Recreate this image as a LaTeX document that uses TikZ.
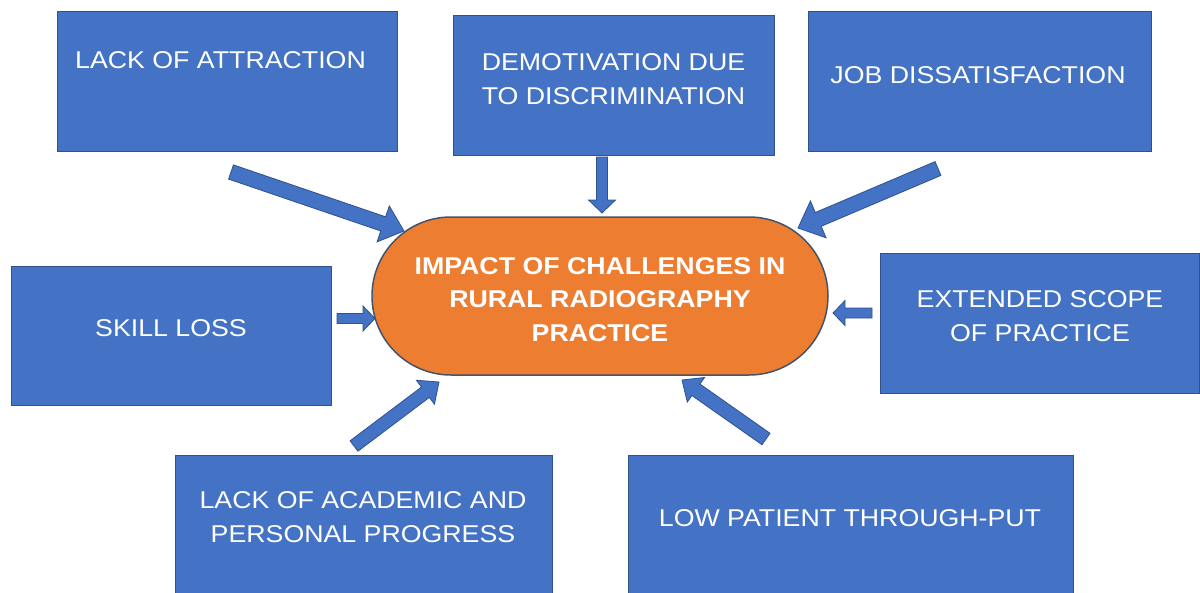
\documentclass[tikz,border=0pt]{standalone}
\usepackage{fontspec}
\setmainfont{Liberation Sans}[FakeStretch=1.1]
\usetikzlibrary{calc}
\definecolor{boxblue}{HTML}{4472C4}
\definecolor{boxedge}{HTML}{2F528F}
\definecolor{hubfill}{HTML}{ED7D31}
\definecolor{hubedge}{HTML}{44546A}
\tikzset{
  cbox/.style={draw=boxedge, fill=boxblue, line width=1pt, inner sep=0pt},
  ctext/.style={text=white, font=\fontsize{24.3}{34}\selectfont, align=center, inner sep=0pt},
  hubstyle/.style={draw=hubedge, fill=hubfill, line width=1.5pt, inner sep=0pt},
  barrow/.style={draw=boxedge, fill=boxblue, line width=0.8pt, line join=miter},
}
% tail, tip, shaft half width, head half width, head length
\newcommand\blockarrow[5]{%
  \coordinate (#1-h) at ($(#2)!#5!(#1)$);
  \filldraw[barrow] ($(#1)!#3!90:(#2)$) -- ($(#1-h)!#3!90:(#2)$) -- ($(#1-h)!#4!90:(#2)$) -- (#2)
    -- ($(#1-h)!#4!-90:(#2)$) -- ($(#1-h)!#3!-90:(#2)$) -- ($(#1)!#3!-90:(#2)$) -- cycle;
}
\begin{document}
\begin{tikzpicture}[x=1pt,y=-1pt]
\useasboundingbox (0,0) rectangle (1200,592);
\fill[white] (0,0) rectangle (1200,592);
% boxes
\node[cbox, minimum width=340pt, minimum height=140pt] (b1) at (227,81) {};
\node[cbox, minimum width=321pt, minimum height=140pt] (b2) at (613.5,85) {};
\node[cbox, minimum width=343pt, minimum height=140pt] (b3) at (979.5,81) {};
\node[cbox, minimum width=320pt, minimum height=139pt] (b4) at (171,335.5) {};
\node[cbox, minimum width=319pt, minimum height=140pt] (b5) at (1039.5,323) {};
\node[cbox, minimum width=377pt, minimum height=160pt] (b6) at (363.5,535) {};
\node[cbox, minimum width=445pt, minimum height=160pt] (b7) at (850.5,535) {};
% texts
\node[ctext] (t1) at (220.5,60) {LACK OF ATTRACTION};
\node[ctext] (t2) at (613.5,79) {DEMOTIVATION DUE\\TO DISCRIMINATION};
\node[ctext] (t3) at (978,75) {JOB DISSATISFACTION};
\node[ctext] (t4) at (171,328) {SKILL LOSS};
\node[ctext] (t5) at (1040,316) {EXTENDED SCOPE\\OF PRACTICE};
\node[ctext] (t6) at (363,517) {LACK OF ACADEMIC AND\\PERSONAL PROGRESS};
\node[ctext] (t7) at (850,518) {LOW PATIENT THROUGH-PUT};
% hub
\node[hubstyle, minimum width=456pt, minimum height=158pt, rounded corners=79pt] (hub) at (600,296) {};
\node[ctext, font=\fontsize{24.3}{33.5}\selectfont\bfseries] (hubtext) at (600,299.5) {IMPACT OF CHALLENGES IN\\RURAL RADIOGRAPHY\\PRACTICE};
% arrow ends
\coordinate (a1) at (231,172);   \coordinate (p1) at (404,231);
\coordinate (a2) at (602,157);   \coordinate (p2) at (602,213);
\coordinate (a3) at (938,168.5); \coordinate (p3) at (798,228);
\coordinate (a4) at (337,318.5); \coordinate (p4) at (375,318.5);
\coordinate (a5) at (872,313);   \coordinate (p5) at (833,313);
\coordinate (a6) at (354,446);   \coordinate (p6) at (439,382);
\coordinate (a7) at (766,439);   \coordinate (p7) at (682,380);
\blockarrow{a1}{p1}{7.5pt}{19pt}{22pt}
\blockarrow{a2}{p2}{5.5pt}{13.5pt}{13pt}
\blockarrow{a3}{p3}{7.5pt}{20pt}{22pt}
\blockarrow{a4}{p4}{5pt}{12.5pt}{12pt}
\blockarrow{a5}{p5}{5pt}{12.5pt}{12pt}
\blockarrow{a6}{p6}{6.5pt}{15pt}{17pt}
\blockarrow{a7}{p7}{7pt}{15pt}{17pt}
\end{tikzpicture}
\end{document}
